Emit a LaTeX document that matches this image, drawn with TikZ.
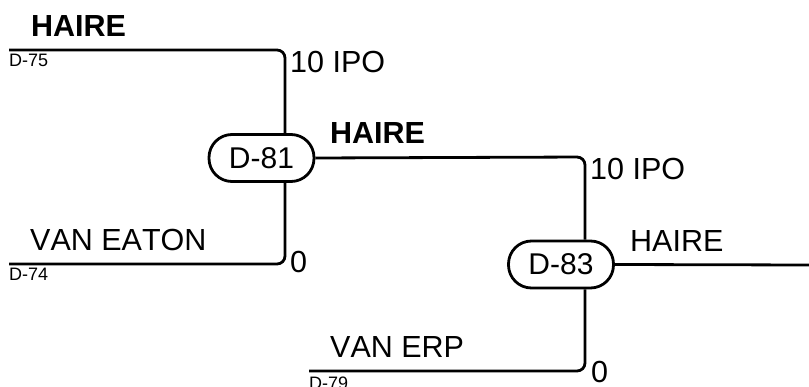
\documentclass[tikz,border=0pt]{standalone}
\usepackage{fontspec}
\setmainfont[Kerning=Off]{Liberation Sans}
\begin{document}
\begin{tikzpicture}[x=1pt,y=-1pt,
  wire/.style={line width=2.8pt,rounded corners=8pt},
  game/.style={draw,line width=2.8pt,rounded corners=23pt,minimum width=105pt,minimum height=47pt,inner sep=0pt,fill=white,font=\fontsize{30}{36}\selectfont},
  big/.style={anchor=base west,inner sep=0pt,font=\fontsize{30.5}{36}\selectfont},
  bigb/.style={anchor=base west,inner sep=0pt,font=\fontsize{30.5}{36}\selectfont\bfseries},
  small/.style={anchor=base west,inner sep=0pt,font=\fontsize{18}{21}\selectfont}]
\useasboundingbox (0,0) rectangle (809,387);
% games
\node[game] (d81) at (261.5,158) {D-81};
\node[game] (d83) at (561,264.5) {D-83};
% free ends and junctions
\coordinate (c75) at (9,50);
\coordinate (j75) at (285,50);
\coordinate (c74) at (9,264);
\coordinate (j74) at (285,264);
\coordinate (j81) at (585,157);
\coordinate (c79) at (309,371);
\coordinate (j79) at (585,371);
\coordinate (cout) at (809,265);
% wires
\draw[wire] (c75) -- (j75) -- (j75 |- d81.north);
\draw[wire] (c74) -- (j74) -- (j74 |- d81.south);
\draw[wire] (d81.east) -- (j81) -- (j81 |- d83.north);
\draw[wire] (c79) -- (j79) -- (j79 |- d83.south);
\draw[wire] (d83.east) -- (cout);
% labels
\node[bigb] (t1) at (31,37) {HAIRE};
\node[small] (t2) at (9,67) {D-75};
\node[big] (t3) at (290,73) {10 IPO};
\node[big] (t4) at (30,251) {VAN EATON};
\node[small] (t5) at (9,281) {D-74};
\node[big] (t6) at (290,273) {0};
\node[bigb] (t7) at (330,144) {HAIRE};
\node[big] (t8) at (590,180) {10 IPO};
\node[big] (t9) at (630,252) {HAIRE};
\node[big] (t10) at (330,358) {VAN ERP};
\node[small] (t11) at (309,389) {D-79};
\node[big] (t12) at (591,382) {0};
\end{tikzpicture}
\end{document}
